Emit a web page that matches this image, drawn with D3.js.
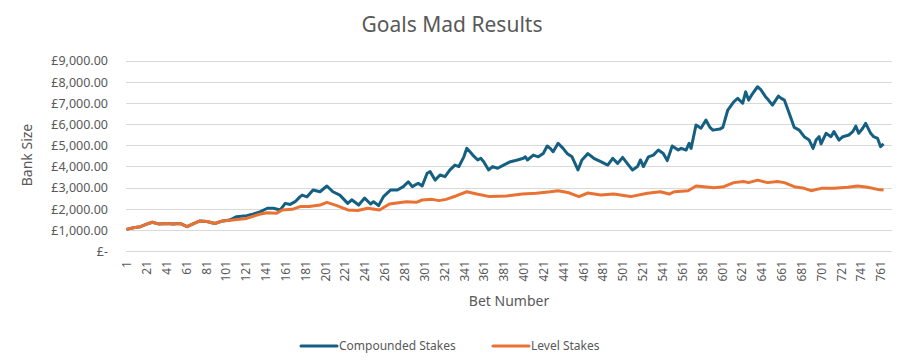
<!DOCTYPE html>
<html>
<head>
<meta charset="utf-8">
<script src="https://cdn.jsdelivr.net/npm/d3@7"></script>
<style>
  body { margin: 0; background: #fff; }
  text { font-family: "Noto Sans", "Liberation Sans", sans-serif; fill: #595959; }
</style>
</head>
<body>
<div class="chart"></div>
<script>
// bet numbers and bank values
var compBets = [1,8,15,22,27,33,42,48,55,62,68,75,82,90,98,105,112,122,129,136,143,149,156,161,166,171,176,178,183,189,196,203,209,216,224,228,235,241,247,250,255,260,267,274,280,285,289,295,299,304,307,312,317,322,327,332,336,341,344,350,355,358,361,366,370,375,381,388,395,401,403,405,411,416,421,425,428,431,436,441,445,450,456,460,466,472,479,486,491,496,501,507,511,516,519,522,527,532,537,542,546,551,557,560,565,568,570,575,580,585,589,592,599,602,607,613,617,622,625,628,632,637,640,645,648,652,658,661,664,669,674,679,684,689,693,696,699,701,706,711,714,719,723,729,733,736,739,743,746,751,754,758,761,764];
var compValues = [1020,1100,1150,1280,1360,1280,1300,1280,1300,1150,1280,1420,1390,1300,1420,1460,1620,1670,1750,1860,2020,2020,1940,2250,2200,2330,2570,2640,2560,2880,2800,3070,2800,2640,2250,2420,2170,2500,2220,2330,2140,2570,2880,2880,3040,3270,3040,3200,3070,3670,3750,3350,3590,3510,3830,4060,3990,4450,4850,4530,4300,4380,4220,3830,3990,3910,4060,4220,4300,4380,4450,4300,4530,4450,4610,4960,4850,4690,5090,4850,4610,4450,3830,4300,4600,4380,4220,4060,4380,4140,4420,4060,3830,3990,4300,3990,4450,4530,4770,4610,4270,4960,4770,4850,4770,5090,4850,5950,5800,6190,5840,5710,5760,5840,6660,7050,7210,6980,7520,7130,7440,7760,7640,7290,7130,6890,7320,7210,7130,6500,5840,5710,5400,5240,4850,5240,5400,5060,5560,5400,5640,5240,5400,5480,5640,5900,5560,5800,6030,5560,5400,5320,4930,5060];

var levelBets = [1,8,15,22,27,33,42,48,55,62,68,75,82,90,98,108,122,136,143,152,158,168,176,185,196,203,213,224,234,244,256,266,283,293,299,309,316,323,333,344,354,367,384,400,414,428,436,447,457,466,479,492,509,526,539,548,553,567,575,583,593,603,613,623,628,637,647,657,664,674,684,691,701,714,728,738,748,758,764];
var levelValues = [1020,1100,1150,1280,1360,1280,1300,1280,1300,1150,1280,1420,1390,1300,1420,1460,1540,1750,1810,1780,1940,1970,2100,2100,2170,2300,2140,1940,1910,2020,1940,2220,2330,2300,2410,2440,2380,2440,2600,2800,2690,2570,2600,2690,2730,2800,2850,2750,2570,2740,2650,2690,2570,2730,2800,2690,2800,2850,3070,3040,2990,3040,3230,3280,3230,3350,3230,3280,3230,3040,2960,2850,2960,2960,3010,3070,3010,2910,2880];

var yTicks = [0,1000,2000,3000,4000,5000,6000,7000,8000,9000];
var xTicks = d3.range(1, 762, 20);
var seriesNames = ["Compounded Stakes", "Level Stakes"];
var seriesColors = ["#156082", "#E97132"];

var width = 899, height = 363;
var plotLeft = 126, plotRight = 892, plotTop = 60.5, plotBottom = 251;

var svg = d3.select(".chart").append("svg")
    .attr("width", width)
    .attr("height", height);

var x = d3.scaleLinear().domain([0.5, 772.5]).range([plotLeft, plotRight]);
var y = d3.scaleLinear().domain([0, 9000]).range([plotBottom, plotTop]);

function money(v) {
    if (v === 0) return "£-";
    return "£" + d3.format(",.2f")(v);
}

// gridlines
svg.selectAll("line.grid")
    .data(yTicks)
    .enter()
    .append("line")
    .attr("class", "grid")
    .attr("x1", plotLeft)
    .attr("x2", plotRight)
    .attr("y1", function (d) { return Math.round(y(d)) + 0.5; })
    .attr("y2", function (d) { return Math.round(y(d)) + 0.5; })
    .attr("stroke", "#d9d9d9")
    .attr("stroke-width", 1);

// y axis labels
var yAxis = svg.append("g")
    .attr("transform", "translate(" + (plotLeft - 18) + ",0)")
    .call(d3.axisLeft(y).tickValues(yTicks).tickFormat(money).tickSize(0).tickPadding(0));
yAxis.select(".domain").remove();
yAxis.selectAll("text")
    .style("font-size", "12.5px")
    .attr("fill", "#595959")
    .attr("dy", "0.35em");

// x axis labels, rotated
var xAxis = svg.append("g")
    .attr("transform", "translate(0," + (plotBottom + 10) + ")")
    .call(d3.axisBottom(x).tickValues(xTicks).tickFormat(d3.format("d")).tickSize(0).tickPadding(0));
xAxis.select(".domain").remove();
xAxis.selectAll("text")
    .style("font-size", "12px")
    .attr("fill", "#595959")
    .attr("text-anchor", "end")
    .attr("dy", "0.35em")
    .attr("y", 0)
    .attr("transform", "rotate(-90)");

// lines
var line = d3.line()
    .x(function (d) { return x(d[0]); })
    .y(function (d) { return y(d[1]); });

var compData = d3.zip(compBets, compValues);
var levelData = d3.zip(levelBets, levelValues);

svg.append("path")
    .datum(compData)
    .attr("d", line)
    .attr("fill", "none")
    .attr("stroke", seriesColors[0])
    .attr("stroke-width", 3)
    .attr("stroke-linejoin", "round");

svg.append("path")
    .datum(levelData)
    .attr("d", line)
    .attr("fill", "none")
    .attr("stroke", seriesColors[1])
    .attr("stroke-width", 3)
    .attr("stroke-linejoin", "round");

// titles
svg.append("text")
    .attr("x", 452)
    .attr("y", 32)
    .attr("text-anchor", "middle")
    .style("font-size", "21px")
    .text("Goals Mad Results");

svg.append("text")
    .attr("transform", "translate(32,155) rotate(-90)")
    .attr("text-anchor", "middle")
    .style("font-size", "14px")
    .text("Bank Size");

svg.append("text")
    .attr("x", (plotLeft + plotRight) / 2)
    .attr("y", 306)
    .attr("text-anchor", "middle")
    .style("font-size", "14px")
    .text("Bet Number");

// legend
var legendX = [301, 493];
var legend = svg.selectAll("g.legend")
    .data(seriesNames)
    .enter()
    .append("g")
    .attr("class", "legend")
    .attr("transform", function (d, i) { return "translate(" + legendX[i] + ",346)"; });

legend.append("line")
    .attr("x1", 0)
    .attr("x2", 36)
    .attr("stroke", function (d, i) { return seriesColors[i]; })
    .attr("stroke-width", 3)
    .attr("stroke-linecap", "round");

legend.append("text")
    .attr("x", 38)
    .attr("dy", "0.35em")
    .style("font-size", "12px")
    .text(function (d) { return d; });
</script>
</body>
</html>
